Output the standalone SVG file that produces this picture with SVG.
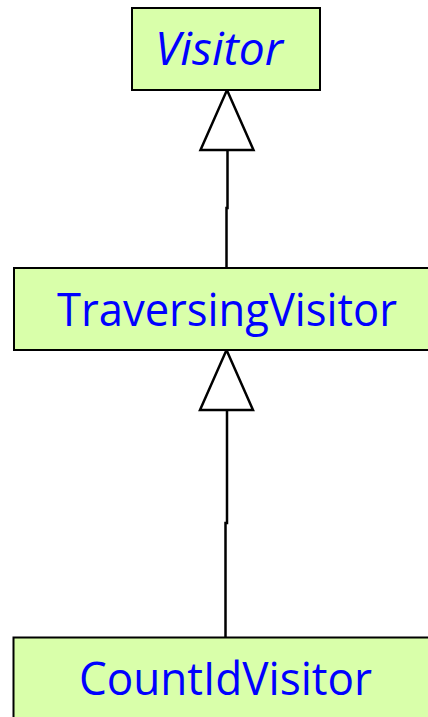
<svg xmlns="http://www.w3.org/2000/svg" width="428" height="717" viewBox="0 0 428 717">
<style>
.box{fill:#d9ffaa;stroke:#000;stroke-width:2}
.lbl{font-family:"Open Sans","Liberation Sans",sans-serif;font-size:46px;fill:#0000ff}
.conn{fill:none;stroke:#000;stroke-width:2.5}
.tri{fill:#fff;stroke:#000;stroke-width:2.5;stroke-linejoin:miter}
</style>
<rect width="428" height="717" fill="#fff"/>
<g id="connectors">
<polyline class="conn" points="227.5,150 227.5,208 226.5,208 226.5,268"/>
<polygon class="tri" points="227,90 253.5,150 200.5,150"/>
<polyline class="conn" points="227,410 227,523 225.5,523 225.5,637"/>
<polygon class="tri" points="226.5,350 253,410 200,410"/>
</g>
<g id="visitor">
<rect class="box" x="132" y="8" width="188" height="82"/>
<text class="lbl" x="155" y="65" font-style="italic" textLength="128" lengthAdjust="spacingAndGlyphs">Visitor</text>
</g>
<g id="traversingvisitor">
<rect class="box" x="14" y="268" width="430" height="82"/>
<text class="lbl" x="57" y="326" textLength="340" lengthAdjust="spacingAndGlyphs">TraversingVisitor</text>
</g>
<g id="countidvisitor">
<rect class="box" x="13.5" y="637.5" width="430" height="100"/>
<text class="lbl" x="79" y="695" textLength="293" lengthAdjust="spacingAndGlyphs">CountIdVisitor</text>
</g>
</svg>
